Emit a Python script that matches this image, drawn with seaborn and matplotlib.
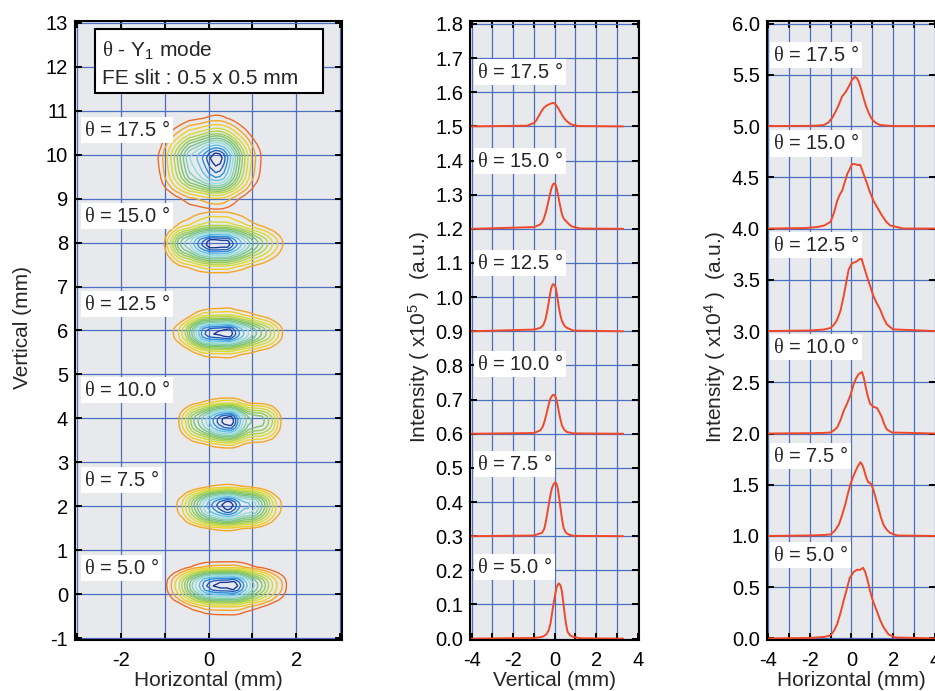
import numpy as np
import pandas as pd
import seaborn as sns
import matplotlib.pyplot as plt
from matplotlib.patches import Rectangle

# angles and offsets of the six measurements
thetas = ["5.0", "7.5", "10.0", "12.5", "15.0", "17.5"]
vert_base = [0.0, 0.3, 0.6, 0.9, 1.2, 1.5]      # x1e5, middle panel
horiz_base = [0.0, 1.0, 2.0, 3.0, 4.0, 5.0]     # x1e4, right panel
beam_offset = [0.0, 2.0, 4.0, 6.0, 8.0, 10.0]   # mm, left panel

# vertical profiles (mm, intensity above baseline x1e5)
v5_x = [-4.0, -1.0, -0.7, -0.53, -0.4, -0.29, -0.2, -0.13, -0.05, 0.03, 0.1, 0.19, 0.27, 0.34,
        0.41, 0.48, 0.55, 0.62, 0.75, 0.91, 1.23, 3.3]
v5_y = [0, 0.002, 0.004, 0.007, 0.013, 0.024, 0.045, 0.073, 0.104, 0.131, 0.152, 0.162, 0.157,
        0.141, 0.108, 0.073, 0.042, 0.02, 0.009, 0.005, 0.001, 0]
v75_x = [-4.0, -1.0, -0.61, -0.5, -0.42, -0.34, -0.26, -0.19, -0.13, -0.05, 0.03, 0.1, 0.16,
         0.23, 0.30, 0.37, 0.43, 0.55, 0.67, 0.91, 3.3]
v75_y = [0, 0.002, 0.01, 0.022, 0.044, 0.073, 0.102, 0.125, 0.141, 0.153, 0.158, 0.152, 0.136,
         0.106, 0.073, 0.044, 0.024, 0.01, 0.005, 0.001, 0]
v10_x = [-4.0, -1.0, -0.69, -0.58, -0.50, -0.42, -0.34, -0.27, -0.21, -0.14, -0.08, -0.01, 0.05,
         0.12, 0.19, 0.27, 0.35, 0.47, 0.59, 0.91, 3.3]
v10_y = [0, 0.002, 0.01, 0.02, 0.034, 0.052, 0.073, 0.09, 0.102, 0.11, 0.114, 0.113, 0.107,
         0.09, 0.068, 0.044, 0.024, 0.011, 0.005, 0.001, 0]
v125_x = [-4.0, -1.0, -0.69, -0.55, -0.45, -0.37, -0.29, -0.23, -0.18, -0.13, -0.08, -0.01, 0.05,
          0.12, 0.19, 0.27, 0.35, 0.47, 0.59, 0.91, 3.3]
v125_y = [0, 0.005, 0.01, 0.018, 0.034, 0.056, 0.084, 0.106, 0.123, 0.133, 0.138, 0.136, 0.128,
          0.104, 0.074, 0.048, 0.03, 0.016, 0.01, 0.002, 0]
v15_x = [-4.0, -1.0, -0.69, -0.55, -0.45, -0.37, -0.29, -0.22, -0.16, -0.1, -0.05, 0.02, 0.08,
         0.16, 0.24, 0.32, 0.40, 0.5, 0.59, 0.7, 0.83, 1.23, 3.3]
v15_y = [0, 0.005, 0.013, 0.025, 0.044, 0.062, 0.084, 0.103, 0.118, 0.128, 0.133, 0.131, 0.123,
         0.1, 0.074, 0.05, 0.034, 0.025, 0.02, 0.013, 0.007, 0.001, 0]
v175_x = [-4.0, -1.33, -1.0, -0.88, -0.77, -0.65, -0.53, -0.41, -0.29, -0.18, -0.08, 0.02, 0.11,
          0.23, 0.35, 0.47, 0.59, 0.71, 0.83, 1.15, 3.3]
v175_y = [0, 0.002, 0.01, 0.018, 0.03, 0.043, 0.054, 0.06, 0.064, 0.067, 0.069, 0.066, 0.059,
          0.047, 0.034, 0.023, 0.015, 0.009, 0.005, 0.001, 0]

# horizontal profiles (mm, intensity above baseline x1e4)
h5_x = [-4.0, -2.0, -1.3, -1.0, -0.85, -0.68, -0.52, -0.37, -0.22, -0.08, 0.11, 0.27, 0.42, 0.56,
        0.66, 0.75, 0.87, 0.98, 1.1, 1.22, 1.38, 1.54, 1.78, 2.1, 4.0]
h5_y = [0, 0.005, 0.015, 0.03, 0.07, 0.14, 0.25, 0.37, 0.48, 0.59, 0.65, 0.67, 0.67, 0.69,
        0.65, 0.59, 0.49, 0.40, 0.33, 0.27, 0.18, 0.11, 0.04, 0.01, 0]
h75_x = [-4.0, -2.0, -1.3, -1.0, -0.8, -0.6, -0.45, -0.29, -0.17, -0.05, 0.07, 0.19, 0.31, 0.43,
         0.51, 0.59, 0.67, 0.75, 0.83, 0.9, 0.98, 1.06, 1.18, 1.3, 1.42, 1.54, 1.7, 1.86, 2.2, 4.0]
h75_y = [0, 0.005, 0.01, 0.015, 0.05, 0.11, 0.2, 0.31, 0.41, 0.50, 0.57, 0.63, 0.68, 0.72,
         0.70, 0.66, 0.60, 0.55, 0.52, 0.52, 0.49, 0.45, 0.36, 0.27, 0.18, 0.11, 0.06, 0.03, 0.005, 0]
h10_x = [-4.0, -2.0, -1.3, -1.0, -0.84, -0.68, -0.52, -0.37, -0.21, -0.05, 0.11, 0.23, 0.35, 0.43,
         0.51, 0.59, 0.67, 0.78, 0.9, 1.06, 1.22, 1.34, 1.46, 1.58, 1.7, 1.94, 4.0]
h10_y = [0, 0.003, 0.006, 0.01, 0.03, 0.06, 0.13, 0.22, 0.29, 0.37, 0.48, 0.54, 0.58, 0.59,
         0.6, 0.55, 0.47, 0.37, 0.29, 0.26, 0.25, 0.21, 0.16, 0.09, 0.04, 0.01, 0]
h125_x = [-4.0, -2.0, -1.3, -1.0, -0.84, -0.68, -0.52, -0.37, -0.25, -0.13, 0.03, 0.15, 0.27, 0.38,
          0.48, 0.6, 0.75, 0.9, 1.06, 1.22, 1.38, 1.54, 1.7, 2.0, 4.0]
h125_y = [0, 0.005, 0.015, 0.03, 0.06, 0.11, 0.2, 0.34, 0.47, 0.60, 0.66, 0.67, 0.68, 0.70,
          0.71, 0.63, 0.53, 0.44, 0.34, 0.27, 0.21, 0.13, 0.065, 0.016, 0]
h15_x = [-4.0, -2.2, -1.63, -1.3, -1.0, -0.84, -0.68, -0.56, -0.44, -0.32, -0.2, -0.08, 0.03, 0.15,
         0.3, 0.43, 0.59, 0.75, 0.9, 1.06, 1.26, 1.46, 1.66, 1.86, 2.5, 4.0]
h15_y = [0, 0.005, 0.015, 0.03, 0.065, 0.15, 0.27, 0.33, 0.37, 0.45, 0.53, 0.58, 0.63, 0.63,
         0.62, 0.62, 0.53, 0.44, 0.35, 0.27, 0.2, 0.13, 0.07, 0.03, 0.0, 0]
h175_x = [-4.0, -2.0, -1.6, -1.32, -1.1, -0.92, -0.76, -0.6, -0.44, -0.32, -0.21, -0.09, 0.03, 0.16,
          0.26, 0.35, 0.47, 0.59, 0.71, 0.83, 0.95, 1.06, 1.22, 1.38, 2.0, 4.0]
h175_y = [0, 0.002, 0.005, 0.01, 0.035, 0.08, 0.14, 0.21, 0.29, 0.32, 0.355, 0.40, 0.45, 0.48,
          0.47, 0.435, 0.36, 0.27, 0.19, 0.13, 0.08, 0.05, 0.025, 0.01, 0.0, 0]

vert = [(v5_x, v5_y), (v75_x, v75_y), (v10_x, v10_y), (v125_x, v125_y), (v15_x, v15_y), (v175_x, v175_y)]
horiz = [(h5_x, h5_y), (h75_x, h75_y), (h10_x, h10_y), (h125_x, h125_y), (h15_x, h15_y), (h175_x, h175_y)]

# label positions
left_lab_y = [0.6, 2.6, 4.65, 6.6, 8.6, 10.55]
mid_lab_y = [0.21, 0.51, 0.805, 1.10, 1.40, 1.66]
right_lab_y = [0.81, 1.78, 2.845, 3.84, 4.83, 5.69]

# contour levels (fraction of peak) and colours
levels = [0.06, 0.1, 0.15, 0.21, 0.27, 0.33, 0.39, 0.46, 0.53, 0.61, 0.7, 0.79, 0.87, 0.94]
level_colors = ['#ef6a28', '#f5a623', '#f0cf25', '#d6dc35', '#b4d445', '#96cc55', '#80c468',
                '#78c488', '#86d0b0', '#96dcd8', '#60c0e8', '#2a90d8', '#2060c0', '#1a3a98']
outer_ring = [True, False, False, False, False, True]

bg = '#e8e9ec'
grid_c = '#4d6fc2'
red = '#f0482a'
fs = 14.5

sns.set_theme(style="ticks", rc={
    "axes.facecolor": bg, "axes.edgecolor": "black", "axes.linewidth": 1.5,
    "axes.grid": True, "grid.color": grid_c, "grid.linewidth": 0.9,
    "xtick.direction": "in", "ytick.direction": "in",
    "xtick.top": True, "ytick.right": True,
    "xtick.major.size": 5, "ytick.major.size": 5,
    "xtick.major.width": 1.4, "ytick.major.width": 1.4,
    "xtick.major.pad": 8, "ytick.major.pad": 5,
    "xtick.color": "black", "ytick.color": "black",
    "xtick.labelsize": fs, "ytick.labelsize": fs,
    "axes.labelsize": 15, "axes.unicode_minus": False,
})
plt.rcParams['font.family'] = ['Liberation Sans', 'DejaVu Sans']
plt.rcParams['mathtext.fontset'] = 'custom'
plt.rcParams['mathtext.rm'] = 'Liberation Sans'
plt.rcParams['mathtext.it'] = 'Liberation Serif'
plt.rcParams['mathtext.sf'] = 'Liberation Sans'

fig = plt.figure(figsize=(9.35, 6.91), dpi=100)
bot, hgt = 0.0738, 0.8965
ax1 = fig.add_axes([0.0802, bot, 0.2859, hgt])
ax2 = fig.add_axes([0.5027, bot, 0.1811, hgt])
ax3 = fig.add_axes([0.8200, bot, 0.1811, hgt])

box = dict(boxstyle='square,pad=0.15', fc='white', ec='none')

# ---- left: beam contours built from the two measured profiles ----
for i in range(6):
    hx, hy = np.array(horiz[i][0]), np.array(horiz[i][1])
    vx, vy = np.array(vert[i][0]), np.array(vert[i][1])
    z = np.outer(vy, hy)
    z = z / z.max()
    lv = levels if outer_ring[i] else levels[1:]
    cl = level_colors if outer_ring[i] else level_colors[1:]
    ax1.contour(hx, vx + beam_offset[i], z, levels=lv, colors=cl, linewidths=1.0, zorder=3)
    ax1.text(-2.85, left_lab_y[i], r"$\theta$ = %s °" % thetas[i], fontsize=fs,
             ha='left', va='center', bbox=box, zorder=5)

ax1.add_patch(Rectangle((-2.6, 11.4), 5.2, 1.45, fc='white', ec='black', lw=1.5, zorder=5))
ax1.text(-2.43, 12.38, r"$\theta$ - Y$_{\mathrm{1}}$ mode", fontsize=15, va='center', zorder=6)
ax1.text(-2.43, 11.72, "FE slit : 0.5 x 0.5 mm", fontsize=15, va='center', zorder=6)

ax1.set_xlim(-3.05, 3.05)
ax1.set_ylim(-1.04, 13.05)
ax1.set_xticks(range(-3, 4))
ax1.set_xticklabels(['', '-2', '', '0', '', '2', ''])
ax1.set_yticks(range(-1, 14))
ax1.set_xlabel("Horizontal (mm)")
ax1.set_ylabel("Vertical (mm)")
ax1.yaxis.set_label_coords(-0.16, 0.505)
ax1.xaxis.set_label_coords(0.5, -0.05)

# ---- middle: vertical profiles ----
for i in range(6):
    d = pd.DataFrame({"x": vert[i][0], "y": np.array(vert[i][1]) + vert_base[i]})
    sns.lineplot(data=d, x="x", y="y", ax=ax2, color=red, lw=1.4, zorder=3)
    ax2.text(-3.75, mid_lab_y[i], r"$\theta$ = %s °" % thetas[i], fontsize=fs,
             ha='left', va='center', bbox=box, zorder=5)
ax2.set_xlim(-4.08, 4.08)
ax2.set_ylim(-0.004, 1.81)
ax2.set_xticks(range(-4, 5))
ax2.set_xticklabels(['-4', '', '-2', '', '0', '', '2', '', '4'])
yt2 = [round(0.1 * k, 1) for k in range(19)]
ax2.set_yticks(yt2)
ax2.set_yticklabels(["%.1f" % t for t in yt2])
ax2.set_xlabel("Vertical (mm)")
ax2.set_ylabel(r"Intensity ( x10$^{\mathrm{5}}$ )  (a.u.)")
ax2.yaxis.set_label_coords(-0.225, 0.49)
ax2.xaxis.set_label_coords(0.5, -0.05)

# ---- right: horizontal profiles ----
for i in range(6):
    d = pd.DataFrame({"x": horiz[i][0], "y": np.array(horiz[i][1]) + horiz_base[i]})
    sns.lineplot(data=d, x="x", y="y", ax=ax3, color=red, lw=1.4, zorder=3)
    ax3.text(-3.76, right_lab_y[i], r"$\theta$ = %s °" % thetas[i], fontsize=fs,
             ha='left', va='center', bbox=box, zorder=5)
ax3.set_xlim(-4.06, 4.06)
ax3.set_ylim(-0.015, 6.03)
ax3.set_xticks(range(-4, 5))
ax3.set_xticklabels(['-4', '', '-2', '', '0', '', '2', '', '4'])
yt3 = [0.5 * k for k in range(13)]
ax3.set_yticks(yt3)
ax3.set_yticklabels(["%.1f" % t for t in yt3])
ax3.set_xlabel("Horizontal (mm)")
ax3.set_ylabel(r"Intensity ( x10$^{\mathrm{4}}$ )  (a.u.)")
ax3.yaxis.set_label_coords(-0.228, 0.49)
ax3.xaxis.set_label_coords(0.5, -0.05)

for ax in (ax1, ax2, ax3):
    ax.set_axisbelow(True)
    for s in ax.spines.values():
        s.set_zorder(6)

fig.savefig("out.png", dpi=100)
